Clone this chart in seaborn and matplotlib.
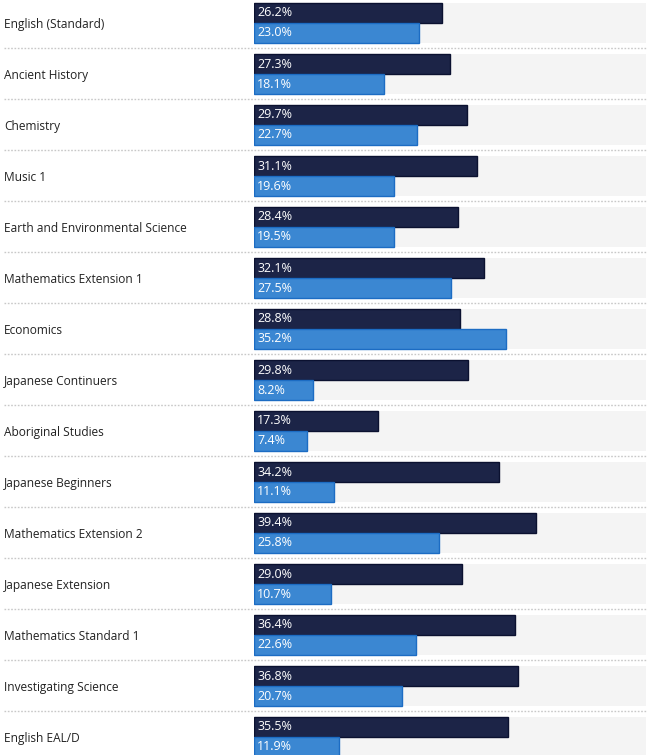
import matplotlib
matplotlib.use("Agg")
import matplotlib.pyplot as plt
import seaborn as sns
import pandas as pd

categories = ["English (Standard)", "Ancient History", "Chemistry", "Music 1",
              "Earth and Environmental Science", "Mathematics Extension 1", "Economics",
              "Japanese Continuers", "Aboriginal Studies", "Japanese Beginners",
              "Mathematics Extension 2", "Japanese Extension", "Mathematics Standard 1",
              "Investigating Science", "English EAL/D"]
series_a = [26.2, 27.3, 29.7, 31.1, 28.4, 32.1, 28.8, 29.8, 17.3, 34.2, 39.4, 29.0, 36.4, 36.8, 35.5]
series_b = [23.0, 18.1, 22.7, 19.6, 19.5, 27.5, 35.2, 8.2, 7.4, 11.1, 25.8, 10.7, 22.6, 20.7, 11.9]
series_names = ["Series A", "Series B"]

sns.set_style("white")
plt.rcParams['font.family'] = ['Open Sans', 'DejaVu Sans']

W, H, DPI = 651, 755, 100
fig = plt.figure(figsize=(W / DPI, H / DPI), dpi=DPI)
left_px, right_px = 254, 646
ax = fig.add_axes([left_px / W, 0, (right_px - left_px) / W, 1])

xmax = 54.7
n = len(categories)
group_h = 40 / 51

# background track
ax.barh(range(n), [xmax] * n, height=group_h, color="#f4f4f4", zorder=0, linewidth=0)

df = pd.DataFrame({
    "category": categories * 2,
    "value": series_a + series_b,
    "series": [series_names[0]] * n + [series_names[1]] * n,
})
sns.barplot(data=df, y="category", x="value", hue="series", orient="h",
            palette=["#1c2447", "#3b87d2"], width=group_h, dodge=True, gap=0,
            ax=ax, legend=False, zorder=2, saturation=1)

edgecols = ["#0b1130", "#1c6cc3"]
for container, ec in zip(ax.containers[-2:], edgecols):
    for bar in container:
        bar.set_edgecolor(ec)
        bar.set_linewidth(1.0)

# value labels
for i, (a, b) in enumerate(zip(series_a, series_b)):
    ax.text(0.45, i - group_h / 4, f"{a:.1f}%", color="white", fontsize=9,
            va="center", ha="left", zorder=5)
    ax.text(0.45, i + group_h / 4, f"{b:.1f}%", color="white", fontsize=9,
            va="center", ha="left", zorder=5)

# separators
for i in range(n - 1):
    ax.axhline(i + 0.49, xmin=(4 - left_px) / (right_px - left_px), xmax=1.0,
               color="#c8c8c8", linestyle=(0, (1.2, 1.2)), linewidth=1.0, clip_on=False, zorder=1)

top_off = 23 / 51
ax.set_ylim((H - 23) / 51, -top_off)
ax.set_xlim(0, xmax)
ax.set_xlabel("")
ax.set_ylabel("")
ax.set_xticks([])
for s in ax.spines.values():
    s.set_visible(False)
ax.tick_params(axis="y", left=False, length=0, pad=(left_px - 4) * 72 / DPI,
               labelsize=8.6, labelcolor="#222222")
for lbl in ax.get_yticklabels():
    lbl.set_horizontalalignment("left")

fig.savefig("out.png", dpi=DPI, facecolor="white")
